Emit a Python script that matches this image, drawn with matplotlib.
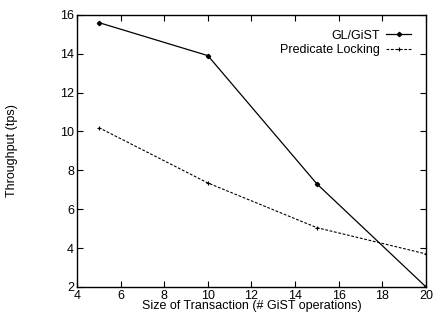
import matplotlib
matplotlib.use('Agg')
import matplotlib.pyplot as plt

x = [5, 10, 15, 20]
gl_gist = [15.6, 13.9, 7.3, 2.0]
pred_lock = [10.2, 7.35, 5.05, 3.7]

plt.rcParams['font.family'] = 'Liberation Sans'
plt.rcParams['font.size'] = 9

fig = plt.figure(figsize=(4.37, 3.18), dpi=100)
ax = fig.add_axes([0.176, 0.0975, 0.799, 0.856])

ax.plot(x, gl_gist, color='black', lw=0.9, marker='D', ms=2.2, label='GL/GiST')
ax.plot(x, pred_lock, color='black', lw=0.8, ls=(0, (2.5, 1.5)), marker='+', ms=3.5,
        markeredgewidth=0.8, label='Predicate Locking')

ax.set_xlim(4, 20)
ax.set_ylim(2, 16)
ax.set_xticks(range(4, 21, 2))
ax.set_yticks(range(2, 17, 2))
ax.tick_params(direction='in', top=True, right=True, length=4, width=0.8, pad=2)
for s in ax.spines.values():
    s.set_linewidth(1.0)

ax.set_xlabel('Size of Transaction (# GiST operations)', labelpad=-1)
ax.set_ylabel('Throughput (tps)', labelpad=30)

ax.legend(loc='upper right', frameon=False, markerfirst=False, handlelength=2.0,
          handletextpad=0.5, labelspacing=0.2, borderaxespad=0.8)

fig.savefig('out.png', dpi=100)
